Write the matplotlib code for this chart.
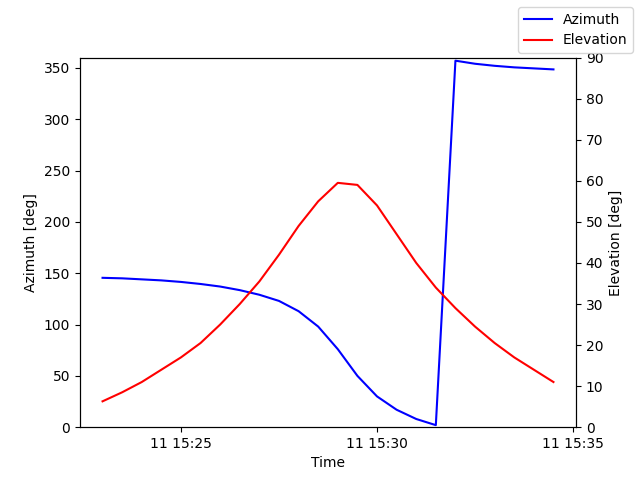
import matplotlib
matplotlib.use("Agg")
import matplotlib.pyplot as plt
import matplotlib.dates as mdates
import pandas as pd

times = pd.date_range("2024-01-11 15:23:00", periods=24, freq="30s")
azimuth = [145.5,145,144,143,141.5,139.5,137,133.5,129,123,113,98,76,50,30,17,8,2,357,354,352,350.5,349.5,348.5]
elevation = [6.3,8.5,11,14,17,20.5,25,30,35.5,42,49,55,59.5,59,54,47,40,34,29,24.5,20.5,17,14,11]

fig, ax = plt.subplots(figsize=(6.4, 4.8), dpi=100)
ax.plot(times, azimuth, color="blue", label="Azimuth")
ax.set_ylim(0, 360)
ax.set_ylabel("Azimuth [deg]")
ax.set_xlabel("Time")
ax2 = ax.twinx()
ax2.plot(times, elevation, color="red", label="Elevation")
ax2.set_ylim(0, 90)
ax2.set_ylabel("Elevation [deg]")
ax.xaxis.set_major_locator(mdates.MinuteLocator(byminute=[25, 30, 35]))
ax.xaxis.set_major_formatter(mdates.DateFormatter("%d %H:%M"))
fig.legend(loc="upper right")
fig.savefig("out.png")
